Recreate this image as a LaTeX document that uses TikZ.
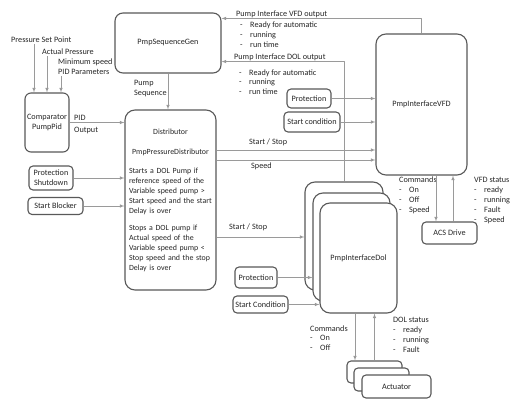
\documentclass[tikz,border=0pt]{standalone}
\usepackage{fontspec}
\setmainfont{Carlito}
\definecolor{boxgray}{HTML}{595959}
\definecolor{linegray}{HTML}{9A9A9A}
\definecolor{txtgray}{HTML}{262626}
\newcommand{\itm}[1]{\makebox[10bp][l]{-}#1}
\begin{document}
\begin{tikzpicture}[>=latex,line join=bevel,
  blk/.style={draw=boxgray,line width=1.1bp,rounded corners=8bp,fill=white,inner sep=2bp,
    text=txtgray,font=\fontsize{8.2bp}{9.8bp}\selectfont,align=center},
  smallblk/.style={blk,rounded corners=4bp},
  lbl/.style={anchor=west,inner sep=1bp,align=left,text=txtgray,font=\fontsize{8.2bp}{9.8bp}\selectfont},
  conn/.style={draw=linegray,line width=0.6bp,->},
]
%%
\fill [white] (0bp,0bp) rectangle (526bp,403bp);
\useasboundingbox (0bp,0bp) rectangle (526bp,403bp);
%%
\node (node_seqgen) at (168bp,360bp) [blk,minimum width=106bp,minimum height=60bp] {PmpSequenceGen};
  \node (node_cmp) at (47bp,280.5bp) [blk,rounded corners=6bp,minimum width=44bp,minimum height=59bp] {Comparator\\PumpPid};
  \node (node_dist) at (170.5bp,203bp) [blk,rounded corners=10bp,minimum width=91bp,minimum height=180bp,text width=83bp,inner xsep=2bp,align=left,font=\fontsize{7.9bp}{9.8bp}\selectfont] {\makebox[83bp]{Distributor}\\[10bp]
    \makebox[83bp]{PmpPressureDistributor}\\[10bp]
    \mbox{Starts a DOL Pump if}\\\mbox{reference speed of the}\\\mbox{Variable speed pump >}\\\mbox{Start speed and the start}\\Delay is over\\[8bp]
    \mbox{Stops a DOL pump if}\\\mbox{Actual speed of the}\\\mbox{Variable speed pump <}\\\mbox{Stop speed and the stop}\\Delay is over};
  \node (node_ptsd) at (51bp,225bp) [smallblk,minimum width=44bp,minimum height=24bp,inner sep=1bp] {Protection\\Shutdown};
  \node (node_sblk) at (55.5bp,197bp) [smallblk,minimum width=55bp,minimum height=17bp] {Start Blocker};
  \node (node_vfd) at (421.5bp,298.5bp) [blk,rounded corners=10bp,minimum width=91bp,minimum height=141bp] {PmpInterfaceVFD};
  \node (node_prot_vfd) at (309bp,304.5bp) [smallblk,minimum width=44bp,minimum height=19bp] {Protection};
  \node (node_scnd_vfd) at (312bp,281bp) [smallblk,minimum width=56bp,minimum height=20bp,inner sep=1bp] {Start condition};
  \node (node_dol_a) at (344bp,167bp) [blk,rounded corners=10bp,minimum width=78bp,minimum height=108bp] {};
  \node (node_dol_b) at (351.5bp,156bp) [blk,rounded corners=10bp,minimum width=77bp,minimum height=108bp] {};
  \node (node_dol_c) at (358.5bp,145bp) [blk,rounded corners=10bp,minimum width=77bp,minimum height=110bp] {PmpInterfaceDol};
  \node (node_prot_dol) at (256bp,125.5bp) [smallblk,minimum width=42bp,minimum height=21bp,inner sep=1bp] {Protection};
  \node (node_scnd_dol) at (260.5bp,98.5bp) [smallblk,minimum width=55bp,minimum height=17bp,inner sep=1bp] {Start Condition};
  \node (node_acs) at (449.5bp,170bp) [smallblk,minimum width=55bp,minimum height=22bp] {ACS Drive};
  \node (node_act_a) at (374.5bp,31bp) [smallblk,minimum width=55bp,minimum height=22bp] {};
  \node (node_act_b) at (381.5bp,23.5bp) [smallblk,minimum width=55bp,minimum height=23bp] {};
  \node (node_act_c) at (396.5bp,16.5bp) [smallblk,minimum width=69bp,minimum height=23bp] {Actuator};
%%
\node (node_in_sp) at (10bp,363bp) [lbl] {Pressure Set Point};
  \node (node_in_ap) at (41bp,351bp) [lbl] {Actual Pressure};
  \node (node_in_ms) at (57bp,341bp) [lbl] {Minimum speed};
  \node (node_in_pid) at (57bp,331bp) [lbl] {PID Parameters};
  \node (node_pid) at (73bp,278.5bp) [lbl] {PID\\[3bp]Output};
  \node (node_pseq) at (133bp,314.5bp) [lbl] {Pump\\[1bp]Sequence};
  \node (node_vfd_out) at (235bp,389bp) [lbl] {Pump Interface VFD output};
  \node (node_vfd_out_l) at (239bp,368.5bp) [lbl] {\itm{Ready for automatic}\\\itm{running}\\\itm{run time}};
  \node (node_dol_out) at (233bp,346bp) [lbl] {Pump Interface DOL output};
  \node (node_dol_out_l) at (238bp,321bp) [lbl] {\itm{Ready for automatic}\\\itm{running}\\\itm{run time}};
  \node (node_ss_vfd) at (248bp,261bp) [lbl] {Start / Stop};
  \node (node_spd) at (250bp,237bp) [lbl] {Speed};
  \node (node_ss_dol) at (228bp,176bp) [lbl] {Start / Stop};
  \node (node_cmd_vfd) at (398bp,207.5bp) [lbl] {Commands\\\itm{On}\\\itm{Off}\\\itm{Speed}};
  \node (node_st_vfd) at (473bp,202.5bp) [lbl] {VFD status\\\itm{ready}\\\itm{running}\\\itm{Fault}\\\itm{Speed}};
  \node (node_cmd_dol) at (309bp,65bp) [lbl] {Commands\\\itm{On}\\\itm{Off}};
  \node (node_st_dol) at (392bp,68bp) [lbl] {DOL status\\\itm{ready}\\\itm{running}\\\itm{Fault}};
%%
\draw [conn] ([xshift=24bp]node_in_sp.south west) -- ([xshift=24bp]node_in_sp.south west |- node_cmp.north);
  \draw [conn] ([xshift=6bp]node_in_ap.south west) -- ([xshift=6bp]node_in_ap.south west |- node_cmp.north);
  \draw [conn] ([xshift=4bp]node_in_pid.south west) -- ([xshift=4bp]node_in_pid.south west |- node_cmp.north);
  \draw [conn] (node_seqgen.south) -- (node_seqgen.south |- node_dist.north);
  \draw [conn] (node_cmp.east) -- (node_cmp.east -| node_dist.west);
  \draw [conn] (node_ptsd.east) -- (node_ptsd.east -| node_dist.west);
  \draw [conn] (node_sblk.east) -- (node_sblk.east -| node_dist.west);
  \draw [conn] ([yshift=50bp]node_dist.east) -- ([yshift=50bp]node_dist.east -| node_vfd.west);
  \draw [conn] ([yshift=40bp]node_dist.east) -- ([yshift=40bp]node_dist.east -| node_vfd.west);
  \draw [conn] ([yshift=-37bp]node_dist.east) -- ([yshift=-37bp]node_dist.east -| node_dol_a.west);
  \draw [conn] (node_vfd.north) |- ([yshift=-6bp]node_seqgen.north east);
  \draw [conn] (node_dol_a.north) |- ([yshift=12bp]node_seqgen.south east);
  \draw [conn] (node_prot_vfd.east) -- (node_prot_vfd.east -| node_vfd.west);
  \draw [conn] (node_scnd_vfd.east) -- (node_scnd_vfd.east -| node_vfd.west);
  \draw [conn] (node_prot_dol.east) -- (node_prot_dol.east -| node_dol_b.west);
  \draw [conn] (node_scnd_dol.east) -- (node_scnd_dol.east -| node_dol_c.west);
  \draw [conn] ([xshift=-13.5bp]node_acs.north |- node_vfd.south) -- ([xshift=-13.5bp]node_acs.north);
  \draw [conn] ([xshift=3.5bp]node_acs.north) -- ([xshift=3.5bp]node_acs.north |- node_vfd.south);
  \draw [conn] ([xshift=-19.5bp]node_act_a.north |- node_dol_c.south) -- ([xshift=-19.5bp]node_act_a.north);
  \draw [conn] (node_act_a.north) -- (node_act_a.north |- node_dol_c.south);
%
\end{tikzpicture}
\end{document}
